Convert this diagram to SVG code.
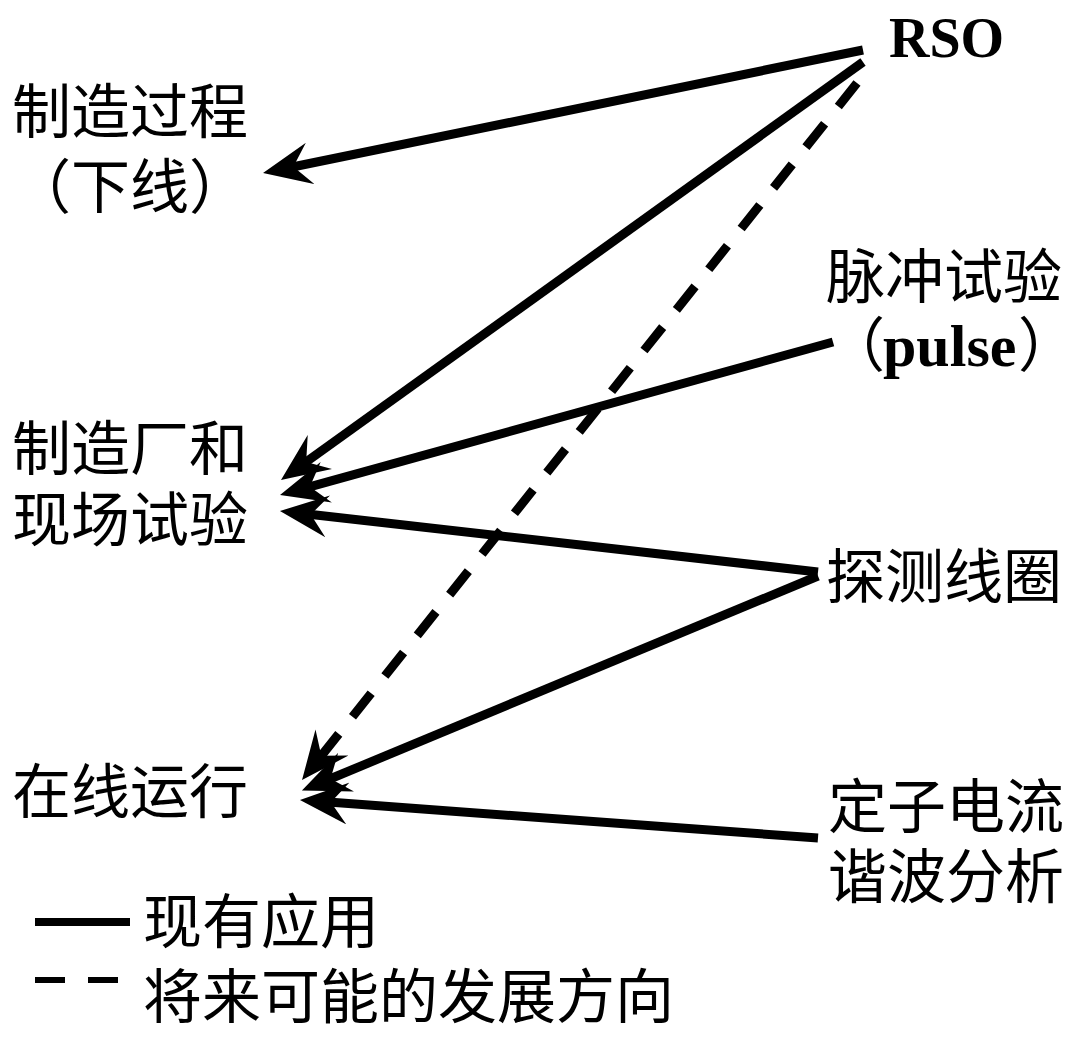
<svg xmlns="http://www.w3.org/2000/svg" width="1078" height="1040" viewBox="0 0 1078 1040">
<style>
.t{font-family:"Liberation Serif","Noto Sans CJK SC",serif;font-size:59px;fill:#000}
.b{font-family:"Liberation Serif",serif;font-weight:bold;fill:#000}
.c{stroke:#000;stroke-width:9;fill:none}
.d{stroke-dasharray:30 22}
</style>
<defs>
<marker id="ah" markerUnits="userSpaceOnUse" markerWidth="48" markerHeight="42" viewBox="0 0 48 42" refX="23" refY="21" orient="auto">
<path d="M48,21 L0,0 L17,21 L0,42 Z" fill="#000"/>
</marker>
</defs>
<rect width="1078" height="1040" fill="#fff"/>
<g id="connectors">
<line class="c" x1="863" y1="50" x2="287.5" y2="168" marker-end="url(#ah)"/>
<line class="c" x1="863" y1="62" x2="301.3" y2="465.4" marker-end="url(#ah)"/>
<line class="c d" x1="857" y1="83" x2="317.6" y2="760.5" marker-end="url(#ah)"/>
<line class="c" x1="833" y1="342" x2="304.1" y2="488.3" marker-end="url(#ah)"/>
<line class="c" x1="818" y1="572" x2="304.8" y2="513.8" marker-end="url(#ah)"/>
<line class="c" x1="818" y1="576" x2="325" y2="781" marker-end="url(#ah)"/>
<line class="c" x1="818" y1="838" x2="324.9" y2="801.8" marker-end="url(#ah)"/>
</g>
<g id="rso"><text class="b" x="889" y="57" font-size="56">RSO</text></g>
<g id="manufacture"><text class="t" x="12" y="133">制造过程</text><text class="t" x="12" y="208">（下线）</text></g>
<g id="pulse"><text class="t" x="826" y="298">脉冲试验</text><text class="t" x="826" y="366">（<tspan class="b" x="883" font-size="60">pulse</tspan><tspan x="1018">）</tspan></text></g>
<g id="factory"><text class="t" x="12" y="470">制造厂和</text><text class="t" x="12" y="541">现场试验</text></g>
<g id="coil"><text class="t" x="826" y="598">探测线圈</text></g>
<g id="online"><text class="t" x="12" y="813">在线运行</text></g>
<g id="mcsa"><text class="t" x="828" y="828">定子电流</text><text class="t" x="828" y="898">谐波分析</text></g>
<g id="legend">
<line x1="35" y1="922" x2="130" y2="922" stroke="#000" stroke-width="8"/>
<line x1="35" y1="980" x2="65" y2="980" stroke="#000" stroke-width="6"/>
<line x1="88" y1="980" x2="118" y2="980" stroke="#000" stroke-width="6"/>
<text class="t" x="143" y="943">现有应用</text>
<text class="t" x="143" y="1018">将来可能的发展方向</text>
</g>
</svg>
